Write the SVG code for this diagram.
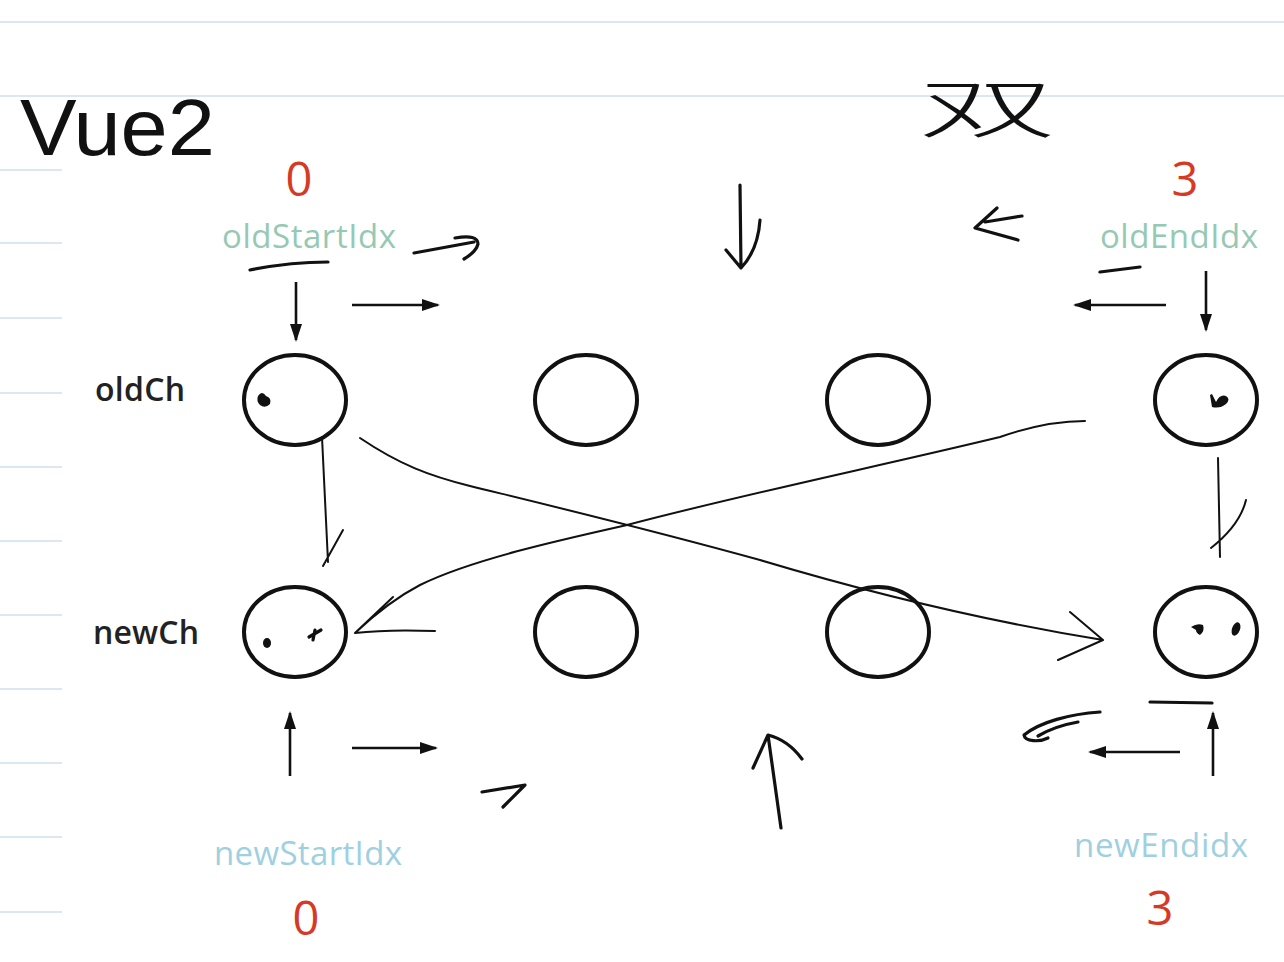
<svg xmlns="http://www.w3.org/2000/svg" width="1284" height="962" viewBox="0 0 1284 962">
<defs>
<style>
.bg{fill:#ffffff}
.rule{stroke:#dbe8f4;stroke-width:2;fill:none}
.node{fill:#ffffff;stroke:#111;stroke-width:4}
.ink{fill:none;stroke:#111;stroke-width:3.2;stroke-linecap:round;stroke-linejoin:round}
.thin{fill:none;stroke:#111;stroke-width:2;stroke-linecap:round;stroke-linejoin:round}
.pr{fill:none;stroke:#111;stroke-width:2.6}
.blob{fill:#111}
.lbl{font-family:"Open Sans","Noto Sans","DejaVu Sans",sans-serif;font-size:32px;font-weight:600;fill:#222}
.num{font-family:"Open Sans","Noto Sans",sans-serif;font-size:47px;fill:#d63a24;text-anchor:middle}
.old{font-family:"Open Sans","Noto Sans",sans-serif;font-size:33px;fill:#95c9b3;text-anchor:middle}
.new{font-family:"Open Sans","Noto Sans",sans-serif;font-size:33px;fill:#9ed0df;text-anchor:middle}
.hand{font-family:"Liberation Sans","Noto Sans CJK SC",sans-serif;fill:#111}
</style>
<marker id="ah" viewBox="0 0 18 12" refX="16" refY="6" markerWidth="18" markerHeight="12" markerUnits="userSpaceOnUse" orient="auto">
<path d="M0,0 L18,6 L0,12 Z" fill="#111"/>
</marker>
</defs>
<rect class="bg" x="0" y="0" width="1284" height="962"/>
<g id="paper">
<line class="rule" x1="0" y1="22" x2="1284" y2="22"/>
<line class="rule" x1="0" y1="96" x2="1284" y2="96"/>
<line class="rule" x1="0" y1="170" x2="62" y2="170"/>
<line class="rule" x1="0" y1="243" x2="62" y2="243"/>
<line class="rule" x1="0" y1="318" x2="62" y2="318"/>
<line class="rule" x1="0" y1="393" x2="62" y2="393"/>
<line class="rule" x1="0" y1="467" x2="62" y2="467"/>
<line class="rule" x1="0" y1="541" x2="62" y2="541"/>
<line class="rule" x1="0" y1="615" x2="62" y2="615"/>
<line class="rule" x1="0" y1="689" x2="62" y2="689"/>
<line class="rule" x1="0" y1="763" x2="62" y2="763"/>
<line class="rule" x1="0" y1="837" x2="62" y2="837"/>
<line class="rule" x1="0" y1="912" x2="62" y2="912"/>
</g>
<g id="titles">
<text class="hand" x="20" y="155" font-size="80" textLength="195" lengthAdjust="spacingAndGlyphs">Vue2</text>
<text class="hand" x="918" y="132" font-size="64" font-weight="300" textLength="138" lengthAdjust="spacingAndGlyphs">双</text>
</g>
<g id="row-labels">
<text class="lbl" x="95" y="401" textLength="90">oldCh</text>
<text class="lbl" x="93" y="644" textLength="106">newCh</text>
</g>
<g id="oldStart">
<text class="num" x="299" y="196">0</text>
<text class="old" x="309" y="248" textLength="174">oldStartIdx</text>
</g>
<g id="oldEnd">
<text class="num" x="1185" y="196">3</text>
<text class="old" x="1179" y="248" textLength="158">oldEndIdx</text>
</g>
<g id="newStart">
<text class="new" x="308" y="865" textLength="188">newStartIdx</text>
<text class="num" x="306" y="935">0</text>
</g>
<g id="newEnd">
<text class="new" x="1161" y="857" textLength="174">newEndidx</text>
<text class="num" x="1160" y="925">3</text>
</g>
<g id="old0"><ellipse class="node" cx="295" cy="400" rx="51" ry="45"/><path class="blob" d="M258,396 q4,-6 8,0 q6,2 4,8 q-5,5 -10,1 q-4,-4 -2,-9z"/></g>
<g id="old1"><ellipse class="node" cx="586" cy="400" rx="51" ry="45"/></g>
<g id="old2"><ellipse class="node" cx="878" cy="400" rx="51" ry="45"/></g>
<g id="old3"><ellipse class="node" cx="1206" cy="400" rx="51" ry="45"/><path class="blob" d="M1212,394 l4,8 q4,-8 10,-6 q5,3 0,8 q-6,5 -14,3 l-2,-12z"/></g>
<g id="new0"><ellipse class="node" cx="295" cy="632" rx="51" ry="45"/><ellipse class="blob" cx="267" cy="643" rx="4" ry="5"/><path class="ink" d="M309,637 L321,630 M315,630 L313,640"/></g>
<g id="new1"><ellipse class="node" cx="586" cy="632" rx="51" ry="45"/></g>
<g id="new2"><ellipse class="node" cx="878" cy="632" rx="51" ry="45"/></g>
<g id="new3"><ellipse class="node" cx="1206" cy="632" rx="51" ry="45"/><path class="blob" d="M1191,627 q6,-4 12,-2 q2,6 -3,10 q-4,-2 -4,-5 z"/><ellipse class="blob" cx="1236" cy="629" rx="4" ry="7" transform="rotate(20 1236 629)"/></g>
<g id="connectors">
<line class="pr" x1="296" y1="282" x2="296" y2="340" marker-end="url(#ah)"/>
<line class="pr" x1="352" y1="305" x2="438" y2="305" marker-end="url(#ah)"/>
<line class="pr" x1="1166" y1="305" x2="1075" y2="305" marker-end="url(#ah)"/>
<line class="pr" x1="1206" y1="271" x2="1206" y2="330" marker-end="url(#ah)"/>
<line class="pr" x1="290" y1="776" x2="290" y2="713" marker-end="url(#ah)"/>
<line class="pr" x1="352" y1="748" x2="436" y2="748" marker-end="url(#ah)"/>
<line class="pr" x1="1180" y1="752" x2="1090" y2="752" marker-end="url(#ah)"/>
<line class="pr" x1="1213" y1="776" x2="1213" y2="713" marker-end="url(#ah)"/>
<path class="ink" d="M250,270 Q290,262 328,262" stroke-width="5"/>
<path class="ink" d="M414,253 L474,242 M455,238 Q478,234 478,244 Q476,252 464,259"/>
<path class="ink" d="M740,185 L741,268 M726,250 L741,268 Q758,250 760,220"/>
<path class="ink" d="M997,208 L975,228 L1018,240 M985,222 L1022,216"/>
<path class="ink" d="M1100,272 L1140,267"/>
<path class="thin" d="M322,437 L328,562 M343,530 L323,566"/>
<path class="thin" d="M360,438 C400,465 430,476 470,486 C560,508 640,527 760,560 C860,590 980,620 1103,640 M1070,612 L1103,640 L1058,660"/>
<path class="thin" d="M1085,421 C1050,421 1020,430 1000,437 C880,466 740,495 627,525 C560,540 470,560 420,585 C395,598 375,614 355,633 L393,597 M355,633 C380,630 410,630 435,631"/>
<path class="thin" d="M1218,458 L1220,557 M1246,500 Q1240,525 1211,548" stroke-width="2.6"/>
<path class="ink" d="M1150,702 L1212,703"/>
<path class="ink" d="M1100,712 C1070,714 1040,722 1024,735 C1025,742 1040,742 1048,738 M1078,722 Q1055,726 1038,736"/>
<path class="ink" d="M482,792 L525,785 L503,807"/>
<path class="ink" d="M781,828 L768,735 M753,768 L768,735 Q788,740 802,759"/>
</g>
</svg>
